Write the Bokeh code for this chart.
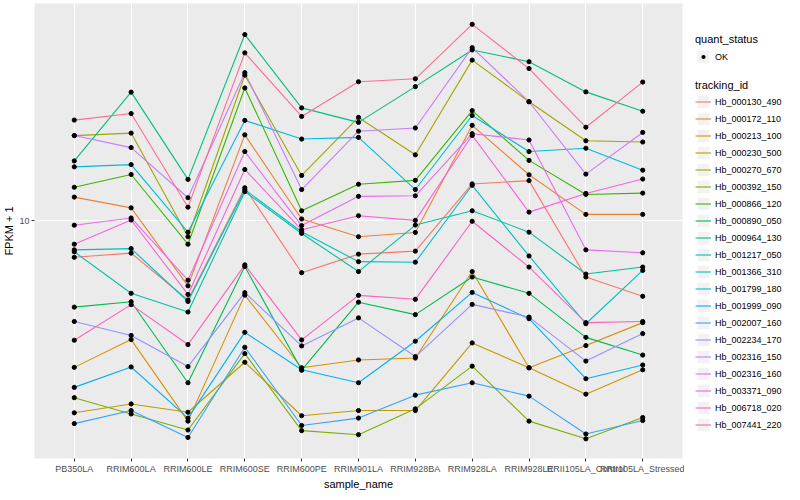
from bokeh.plotting import figure
from bokeh.models import FactorRange, Range1d, FixedTicker, PrintfTickFormatter, Legend, LegendItem
from bokeh.layouts import row, column
from bokeh.embed import file_html
from bokeh.resources import INLINE

FONT = "Liberation Sans"

samples = ["PB350LA", "RRIM600LA", "RRIM600LE", "RRIM600SE", "RRIM600PE", "RRIM901LA",
           "RRIM928BA", "RRIM928LA", "RRIM928LE", "RRII105LA_Control", "RRII105LA_Stressed"]

tracking_ids = ["Hb_000130_490", "Hb_000172_110", "Hb_000213_100", "Hb_000230_500", "Hb_000270_670",
                "Hb_000392_150", "Hb_000866_120", "Hb_000890_050", "Hb_000964_130", "Hb_001217_050",
                "Hb_001366_310", "Hb_001799_180", "Hb_001999_090", "Hb_002007_160", "Hb_002234_170",
                "Hb_002316_150", "Hb_002316_160", "Hb_003371_090", "Hb_006718_020", "Hb_007441_220"]

colors = ["#F8766D", "#EA8331", "#D89000", "#C09B00", "#A3A500", "#7CAE00", "#39B600", "#00BB4E",
          "#00BF7D", "#00C1A3", "#00BFC4", "#00BAE0", "#00B0F6", "#35A2FF", "#9590FF", "#C77CFF",
          "#E76BF3", "#FA62DB", "#FF62BC", "#FF6C91"]

# FPKM + 1 per sample
fpkm_000130_490 = [7.51, 7.76, 5.38, 12.93, 6.66, 7.70, 7.88, 13.32, 13.67, 6.44, 5.54]
fpkm_000172_110 = [12.02, 11.05, 6.01, 19.54, 10.13, 8.82, 9.12, 21.05, 14.31, 10.50, 10.50]
fpkm_000213_100 = [3.18, 3.95, 2.09, 5.59, 3.17, 3.37, 3.42, 6.72, 3.17, 3.77, 4.51]
fpkm_000230_500 = [2.23, 2.39, 2.24, 3.31, 2.18, 2.27, 2.27, 3.85, 3.17, 2.58, 3.12]
fpkm_000270_670 = [19.43, 19.81, 8.82, 31.13, 14.23, 22.39, 16.72, 35.03, 25.31, 18.66, 18.48]
fpkm_000392_150 = [2.51, 2.21, 1.95, 3.54, 1.94, 1.88, 2.30, 3.21, 2.09, 1.82, 2.15]
fpkm_000866_120 = [12.98, 14.34, 8.32, 28.18, 10.80, 13.29, 13.70, 23.62, 16.01, 12.27, 12.40]
fpkm_000890_050 = [5.09, 5.31, 2.82, 6.99, 3.11, 5.29, 4.80, 6.44, 5.67, 4.02, 3.50]
fpkm_000964_130 = [15.94, 27.27, 13.80, 42.76, 24.12, 21.54, 28.47, 37.93, 34.59, 27.33, 23.50]
fpkm_001217_050 = [7.84, 5.67, 4.90, 12.54, 9.05, 6.72, 9.66, 10.80, 9.14, 6.59, 6.96]
fpkm_001366_310 = [7.96, 8.04, 5.32, 12.74, 9.17, 7.26, 7.23, 13.18, 7.59, 4.47, 6.78]
fpkm_001799_180 = [15.22, 15.49, 9.14, 21.88, 18.91, 19.16, 12.75, 22.73, 17.15, 17.60, 14.83]
fpkm_001999_090 = [2.72, 3.19, 2.14, 4.18, 3.12, 2.82, 3.90, 5.71, 4.65, 2.91, 3.24]
fpkm_002007_160 = [2.05, 2.27, 1.84, 3.72, 2.02, 2.14, 2.56, 2.82, 2.54, 1.89, 2.10]
fpkm_002234_170 = [4.55, 4.08, 3.20, 5.70, 3.76, 4.68, 3.46, 5.20, 4.71, 3.34, 4.14]
fpkm_002316_150 = [19.43, 17.69, 11.96, 31.75, 12.75, 20.11, 20.62, 38.61, 25.31, 14.38, 19.91]
fpkm_002316_160 = [9.65, 10.21, 6.28, 17.15, 9.62, 12.09, 12.14, 19.72, 18.77, 7.96, 7.78]
fpkm_003371_090 = [8.32, 10.05, 5.62, 14.91, 9.31, 10.39, 10.02, 19.45, 10.69, 12.37, 13.84]
fpkm_006718_020 = [3.93, 5.19, 3.80, 7.08, 3.94, 5.58, 5.41, 9.95, 6.96, 4.51, 4.55]
fpkm_007441_220 = [21.93, 23.08, 11.11, 37.07, 22.56, 29.58, 30.27, 46.32, 32.79, 20.74, 29.51]

series = [fpkm_000130_490, fpkm_000172_110, fpkm_000213_100, fpkm_000230_500, fpkm_000270_670,
          fpkm_000392_150, fpkm_000866_120, fpkm_000890_050, fpkm_000964_130, fpkm_001217_050,
          fpkm_001366_310, fpkm_001799_180, fpkm_001999_090, fpkm_002007_160, fpkm_002234_170,
          fpkm_002316_150, fpkm_002316_160, fpkm_003371_090, fpkm_006718_020, fpkm_007441_220]

y_ticks = [10]

p = figure(x_range=FactorRange(factors=samples, range_padding=0.2, range_padding_units="absolute"),
           y_axis_type="log", y_range=Range1d(1.561, 54.5),
           frame_width=648, frame_height=455, toolbar_location=None, output_backend="svg",
           min_border_left=0, min_border_right=2, min_border_top=3, min_border_bottom=0,
           background_fill_color="#EBEBEB", border_fill_color="white", outline_line_color=None)

for vals, c in zip(series, colors):
    p.line(samples, vals, line_color=c, line_width=1.1)
for vals in series:
    p.scatter(samples, vals, size=4.2, color="black")

p.yaxis.ticker = FixedTicker(ticks=y_ticks, minor_ticks=[])
p.yaxis.formatter = PrintfTickFormatter(format="%d")
p.ygrid.ticker = FixedTicker(ticks=y_ticks, minor_ticks=[])
p.grid.grid_line_color = "white"
p.grid.grid_line_width = 1.1

p.xaxis.axis_label = "sample_name"
p.yaxis.axis_label = "FPKM + 1"
for ax in (p.xaxis, p.yaxis):
    ax.axis_line_color = None
    ax.major_tick_line_color = "#333333"
    ax.major_tick_out = 3
    ax.major_tick_in = 0
    ax.minor_tick_line_color = None
    ax.major_label_text_font = FONT
    ax.major_label_text_font_size = "9px"
    ax.major_label_text_color = "#4D4D4D"
    ax.major_label_standoff = 2
    ax.axis_label_text_font = FONT
    ax.axis_label_text_font_size = "11px"
    ax.axis_label_text_font_style = "normal"
    ax.axis_label_text_color = "black"
    ax.axis_label_standoff = 1


def legend_fig(h, top):
    f = figure(width=98, height=h, toolbar_location=None, output_backend="svg",
               x_axis_location=None, y_axis_location=None,
               x_range=Range1d(0, 1), y_range=Range1d(0, 1),
               min_border_left=11, min_border_right=0, min_border_top=top, min_border_bottom=0,
               outline_line_color=None, background_fill_color="white", border_fill_color="white")
    f.grid.visible = False
    return f


def style_legend(leg):
    leg.location = "top_left"
    leg.title_text_font = FONT
    leg.title_text_font_size = "11px"
    leg.title_text_font_style = "normal"
    leg.title_text_color = "black"
    leg.label_text_font = FONT
    leg.label_text_font_size = "9px"
    leg.label_text_color = "black"
    leg.glyph_width = 16
    leg.glyph_height = 17
    leg.label_height = 17
    leg.label_standoff = 4
    leg.spacing = 0
    leg.padding = 0
    leg.margin = 0
    leg.border_line_color = None
    leg.background_fill_alpha = 0


# legend proxies sit outside the legend figure's visible range
lf1 = legend_fig(75, 33)
bg = lf1.quad(left=[2], right=[3], top=[3], bottom=[2], fill_color="#F2F2F2", line_color="white", line_width=1)
dot = lf1.scatter(x=[2.5], y=[2.5], size=4, fill_color="black", line_color="#F2F2F2", line_width=2.2)
leg1 = Legend(items=[LegendItem(label="OK", renderers=[bg, dot])], title="quant_status", title_standoff=3)
style_legend(leg1)
lf1.add_layout(leg1)

lf2 = legend_fig(413, 4)
items = []
for tid, c in zip(tracking_ids, colors):
    b = lf2.quad(left=[2], right=[3], top=[3], bottom=[2], fill_color="#F2F2F2", line_color="white", line_width=1)
    ln = lf2.line(x=[2, 3], y=[2.5, 2.5], line_color=c, line_width=1.1)
    items.append(LegendItem(label=tid, renderers=[b, ln]))
leg2 = Legend(items=items, title="tracking_id", title_standoff=2)
style_legend(leg2)
lf2.add_layout(leg2)

layout = row(p, column(lf1, lf2))
open("out.html", "w").write(file_html(layout, INLINE))
